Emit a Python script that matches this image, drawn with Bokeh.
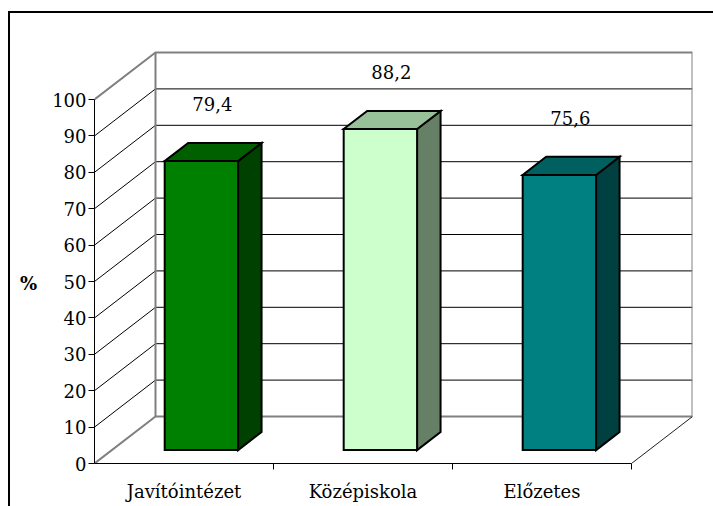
from bokeh.plotting import figure
from bokeh.models import FixedTicker, Range1d
from bokeh.core.properties import value
from bokeh.embed import file_html
from bokeh.resources import INLINE

# ---- data ----
categories = ["Javítóintézet", "Középiskola", "Előzetes"]
values = [79.4, 88.2, 75.6]
value_labels = ["79,4", "88,2", "75,6"]
y_ticks = [0, 10, 20, 30, 40, 50, 60, 70, 80, 90, 100]
front_colors = ["#008000", "#CCFFCC", "#008080"]
top_colors = ["#006000", "#99C199", "#006060"]
side_colors = ["#004000", "#668066", "#004040"]

# ---- geometry (styling) ----
PX_X = 179.0          # pixels per category
PX_Y = 3.64           # pixels per value unit
DX = 61.0 / PX_X      # depth offset in category units
DY = 47.0 / PX_Y      # depth offset in value units
F1, F2 = 0.285, 0.67  # bar front / back depth fractions
BAR_W = 0.41
FRAME_W, FRAME_H = 598, 423
FONT = "DejaVu Serif"
FS = "18px"
N = len(categories)

p = figure(frame_width=FRAME_W, frame_height=FRAME_H,
           x_range=Range1d(0, FRAME_W / PX_X), y_range=Range1d(0, FRAME_H / PX_Y),
           output_backend="svg", toolbar_location=None,
           min_border_left=84, min_border_right=21, min_border_top=27, min_border_bottom=43)
p.outline_line_color = None
p.grid.visible = False
p.background_fill_color = "white"
p.border_fill_color = "white"
p.styles = {"border-top": "2px solid black", "border-left": "2px solid black",
            "border-right": "none", "border-bottom": "none",
            "margin-left": "8px", "margin-top": "11px"}

# ---- walls ----
top_v = y_ticks[-1]
inner = y_ticks[1:-1]
p.multi_line(xs=[[DX, N + DX] for v in inner], ys=[[v + DY, v + DY] for v in inner],
             line_color="black", line_width=1)
p.multi_line(xs=[[0, DX] for v in inner], ys=[[v, v + DY] for v in inner],
             line_color="black", line_width=1)
gray_xs = [[0, DX, N + DX, N + DX, DX, 0], [DX, DX]]
gray_ys = [[top_v, top_v + DY, top_v + DY, DY, DY, 0], [DY, top_v + DY]]
p.multi_line(xs=gray_xs, ys=gray_ys, line_color="#808080", line_width=2)
p.line(x=[N, N + DX], y=[0, DY], line_color="#202020", line_width=1)

# ---- bars ----
fx, fy, tx, ty, sx, sy = [], [], [], [], [], []
for i, v in enumerate(values):
    xl = i + 0.5 - BAR_W / 2
    xr = i + 0.5 + BAR_W / 2
    fx.append([xl + F1 * DX, xr + F1 * DX, xr + F1 * DX, xl + F1 * DX])
    fy.append([F1 * DY, F1 * DY, v + F1 * DY, v + F1 * DY])
    tx.append([xl + F1 * DX, xr + F1 * DX, xr + F2 * DX, xl + F2 * DX])
    ty.append([v + F1 * DY, v + F1 * DY, v + F2 * DY, v + F2 * DY])
    sx.append([xr + F1 * DX, xr + F2 * DX, xr + F2 * DX, xr + F1 * DX])
    sy.append([F1 * DY, F2 * DY, v + F2 * DY, v + F1 * DY])
for xs, ys, cols in ((sx, sy, side_colors), (tx, ty, top_colors), (fx, fy, front_colors)):
    p.patches(xs=xs, ys=ys, fill_color=cols, line_color="black", line_width=2,
              line_join="miter")

# ---- value labels ----
p.text(x=[i + 0.5 + F1 * DX for i in range(N)], y=[v + F1 * DY for v in values],
       text=value_labels, text_font=value(FONT), text_font_size=FS,
       text_color="black", text_align="center", text_baseline="middle",
       x_offset=11, y_offset=-57)

# ---- axes ----
ya = p.yaxis[0]
ya.ticker = FixedTicker(ticks=y_ticks)
ya.bounds = (0, 100)
ya.axis_line_color = "black"
ya.axis_line_width = 1
ya.major_tick_in = 0
ya.major_tick_out = 6
ya.minor_tick_line_color = None
ya.major_label_standoff = 2
ya.major_label_text_font = FONT
ya.major_label_text_font_size = FS
ya.major_label_text_color = "black"
ya.axis_label = "\n\n%"
ya.axis_label_orientation = "horizontal"
ya.axis_label_text_baseline = "middle"
ya.axis_label_text_line_height = 1.5
ya.axis_label_standoff = 12
ya.axis_label_text_font = FONT
ya.axis_label_text_font_size = "18px"
ya.axis_label_text_font_style = "bold"
ya.axis_label_text_color = "black"

xa = p.xaxis[0]
xa.ticker = FixedTicker(ticks=[i + 0.5 for i in range(N)], minor_ticks=list(range(1, N + 1)))
xa.major_label_overrides = {i + 0.5: c for i, c in enumerate(categories)}
xa.bounds = (0, N)
xa.axis_line_color = "black"
xa.major_tick_in = 0
xa.major_tick_out = 0
xa.minor_tick_in = 0
xa.minor_tick_out = 6
xa.minor_tick_line_color = "black"
xa.major_label_standoff = 11
xa.major_label_text_font = FONT
xa.major_label_text_font_size = FS
xa.major_label_text_color = "black"

open("out.html", "w").write(file_html(p, INLINE))
